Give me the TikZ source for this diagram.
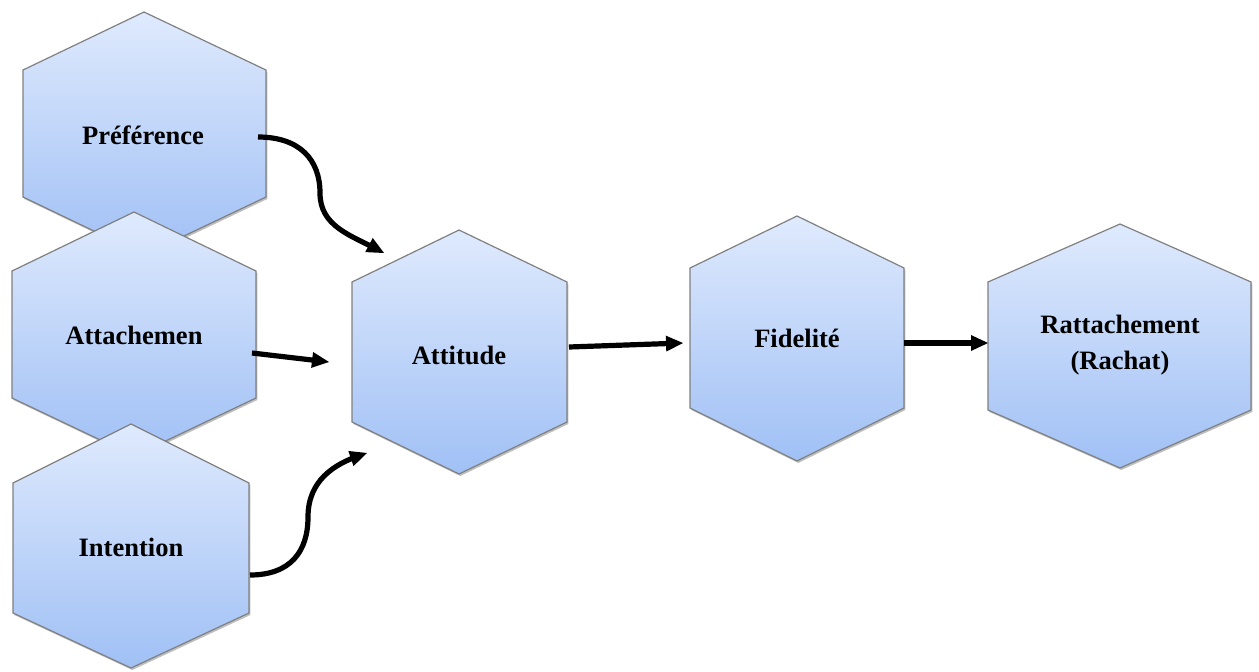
\documentclass[tikz,border=0pt]{standalone}
\usepackage{fontspec}
\setmainfont{Liberation Serif}
\usetikzlibrary{shadows}

\definecolor{hexTop}{RGB}{223,234,253}
\definecolor{hexBot}{RGB}{160,192,245}
\definecolor{hexLine}{RGB}{128,128,128}

\tikzset{
  hexa/.style={draw=hexLine, line width=0.9, top color=hexTop, bottom color=hexBot,
    drop shadow={shadow xshift=1pt, shadow yshift=-1.5pt, opacity=0.25, fill=black}},
  lbl/.style={font=\fontsize{19.9}{27}\selectfont\bfseries, align=center, inner sep=0pt},
  conn/.style={line width=3.9pt, shorten >=6pt},
  tip/.style={fill=black, line width=0.08, draw opacity=0}
}

\begin{document}
\begin{tikzpicture}[x=0.75pt,y=0.75pt,yscale=-1,xscale=1]
\useasboundingbox (0,0) rectangle (1259,671);

% Shape: Hexagon (Preference)
\draw [hexa] (144,12) -- (266,70) -- (266,197) -- (144,255) -- (23,197) -- (23,70) -- cycle ;
\draw (143,135) node (pref) [lbl] {Préférence};
% Shape: Hexagon (Attachemen)
\draw [hexa] (134,212) -- (256,271) -- (256,398) -- (134,456) -- (12,398) -- (12,271) -- cycle ;
\draw (134,335) node (attach) [lbl] {Attachemen};
% Shape: Hexagon (Intention)
\draw [hexa] (131,424) -- (249,483) -- (249,613) -- (131,668) -- (13,613) -- (13,483) -- cycle ;
\draw (131,547) node (intent) [lbl] {Intention};
% Shape: Hexagon (Attitude)
\draw [hexa] (459,230) -- (567,282) -- (567,422) -- (459,474) -- (352,422) -- (352,282) -- cycle ;
\draw (459,355) node (attit) [lbl] {Attitude};
% Shape: Hexagon (Fidelite)
\draw [hexa] (797,216) -- (904,268) -- (904,408) -- (797,461) -- (690,408) -- (690,268) -- cycle ;
\draw (797,338) node (fidel) [lbl] {Fidelité};
% Shape: Hexagon (Rattachement)
\draw [hexa] (1120,224) -- (1251,282) -- (1251,410) -- (1120,468) -- (988,410) -- (988,282) -- cycle ;
\draw (1120,345) node (ratt) [lbl] {Rattachement\\(Rachat)};

% connector ends
\coordinate (pref-out) at (258,137);
\coordinate (attach-out) at (252,353);
\coordinate (intent-out) at (250,575);
\coordinate (attit-in1) at (384,253);
\coordinate (attit-in2) at (329,362);
\coordinate (attit-in3) at (367,453);
\coordinate (attit-out) at (569,347);
\coordinate (fidel-in) at (683,343);
\coordinate (fidel-out) at (904,343);
\coordinate (ratt-in) at (988,343);

% Curve Lines (Preference -> Attitude)
\draw [conn] (pref-out) .. controls (300,137) and (320,160) .. (320,193) .. controls (320,226) and (350,235) .. (attit-in1) ;
\draw [tip, shift={(attit-in1)}, rotate=208] (17,-8) -- (0,0) -- (17,8) -- cycle ;
% Straight Lines (Attachemen -> Attitude)
\draw [conn] (attach-out) -- (attit-in2) ;
\draw [tip, shift={(attit-in2)}, rotate=187] (17,-8) -- (0,0) -- (17,8) -- cycle ;
% Curve Lines (Intention -> Attitude)
\draw [conn] (intent-out) .. controls (290,575) and (308,552) .. (308,517) .. controls (308,480) and (335,464) .. (attit-in3) ;
\draw [tip, shift={(attit-in3)}, rotate=161] (17,-8) -- (0,0) -- (17,8) -- cycle ;
% Straight Lines (Attitude -> Fidelite)
\draw [conn] (attit-out) -- (fidel-in) ;
\draw [tip, shift={(fidel-in)}, rotate=178] (17,-8) -- (0,0) -- (17,8) -- cycle ;
% Straight Lines (Fidelite -> Rattachement)
\draw [conn] (fidel-out) -- (ratt-in) ;
\draw [tip, shift={(ratt-in)}, rotate=180] (17,-8) -- (0,0) -- (17,8) -- cycle ;

\end{tikzpicture}
\end{document}
